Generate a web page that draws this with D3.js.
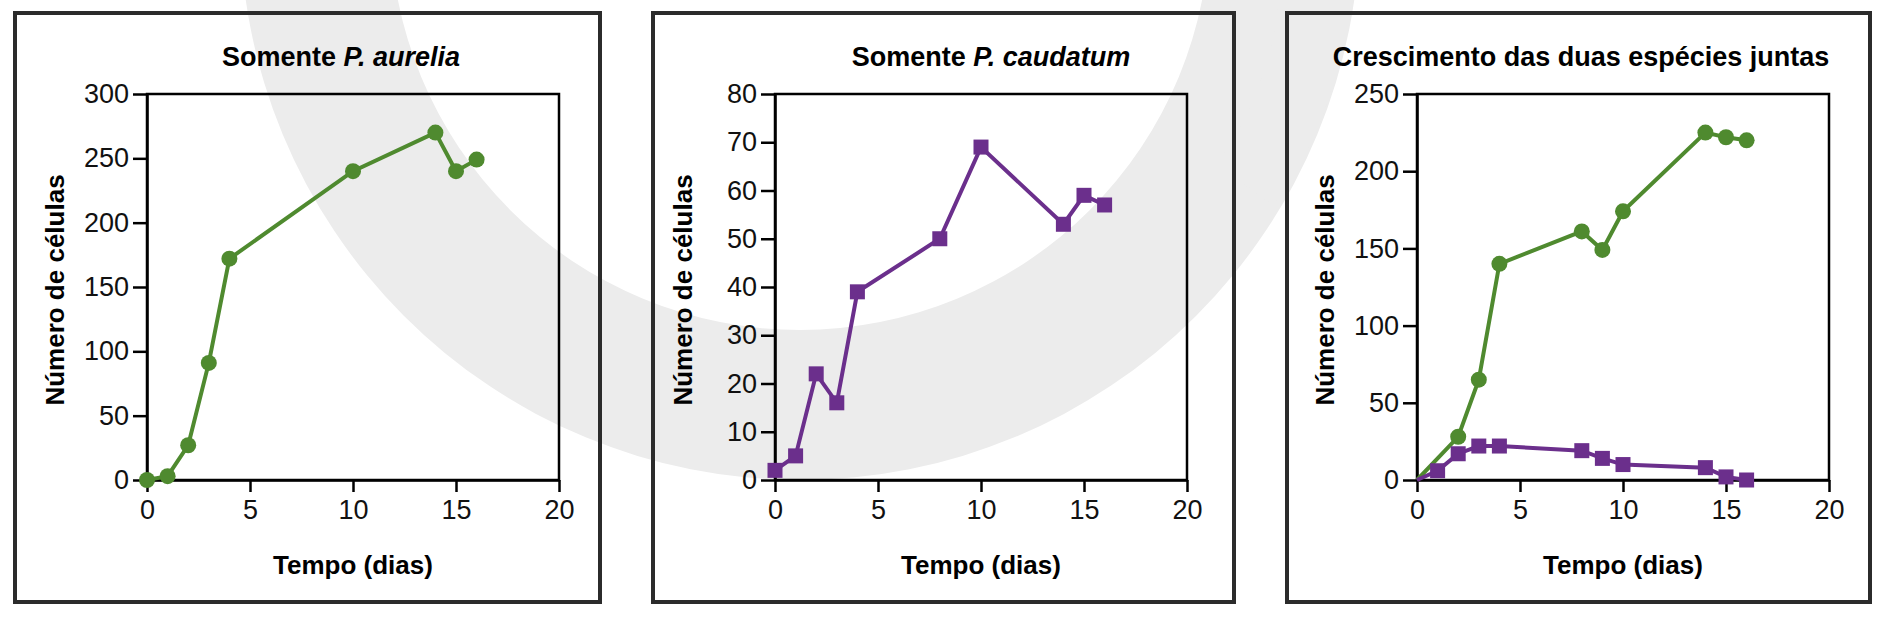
<!DOCTYPE html>
<html><head><meta charset="utf-8">
<script src="https://cdn.jsdelivr.net/npm/d3@7"></script>
<style>body{margin:0;background:#fff}svg{display:block}</style>
</head><body>
<script>
// data
const aureliaDays = [0, 1, 2, 3, 4, 10, 14, 15, 16];
const aureliaCells = [0, 3, 27, 91, 172, 240, 270, 240, 249];
const caudatumDays = [0, 1, 2, 3, 4, 8, 10, 14, 15, 16];
const caudatumCells = [2, 5, 22, 16, 39, 50, 69, 53, 59, 57];
const mixGreenDays = [0, 2, 3, 4, 8, 9, 10, 14, 15, 16];
const mixGreenCells = [0, 28, 65, 140, 161, 149, 174, 225, 222, 220];
const mixPurpleDays = [0, 1, 2, 3, 4, 8, 9, 10, 14, 15, 16];
const mixPurpleCells = [0, 6, 17, 22, 22, 19, 14, 10, 8, 2, 0];
const xTicks = [0, 5, 10, 15, 20];

const GREEN = '#4f8a2f', PURPLE = '#6b2f8c';
const zip = (xs, ys) => xs.map((x, i) => ({x, y: ys[i]}));

const svg = d3.select('body').append('svg').attr('width', 1892).attr('height', 617);

// faint watermark behind the panels
const arc = d3.arc();
svg.append('path').attr('transform', 'translate(800,-80)')
  .attr('d', arc({innerRadius: 410, outerRadius: 560, startAngle: 0, endAngle: 2 * Math.PI}))
  .attr('fill', '#ececec');
svg.append('path').attr('transform', 'translate(950,-30)')
  .attr('d', arc({innerRadius: 330, outerRadius: 400, startAngle: 0.3, endAngle: 2.2}))
  .attr('fill', '#ececec');

const panels = [
  {frame: [15, 600], left: 147, titleX: 341, title: ['Somente ', 'P. aurelia'], yMax: 300, yStep: 50,
   series: [{d: zip(aureliaDays, aureliaCells), c: GREEN, m: 'circle', skipFirst: false}]},
  {frame: [653, 1234], left: 775, titleX: 991, title: ['Somente ', 'P. caudatum'], yMax: 80, yStep: 10,
   series: [{d: zip(caudatumDays, caudatumCells), c: PURPLE, m: 'square', skipFirst: false}]},
  {frame: [1287, 1870], left: 1417, titleX: 1581, title: ['Crescimento das duas espécies juntas', ''], yMax: 250, yStep: 50,
   series: [{d: zip(mixGreenDays, mixGreenCells), c: GREEN, m: 'circle', skipFirst: true},
            {d: zip(mixPurpleDays, mixPurpleCells), c: PURPLE, m: 'square', skipFirst: true}]}
];

const plotTop = 94, plotBottom = 480, plotW = 412;
const font = '"Liberation Sans", Arial, sans-serif';

panels.forEach(p => {
  svg.append('rect').attr('x', p.frame[0]).attr('y', 13)
    .attr('width', p.frame[1] - p.frame[0]).attr('height', 589)
    .attr('fill', 'none').attr('stroke', '#2b2b2b').attr('stroke-width', 4);

  const g = svg.append('g');
  const x = d3.scaleLinear().domain([0, 20]).range([p.left, p.left + plotW]);
  const y = d3.scaleLinear().domain([0, p.yMax]).range([plotBottom, plotTop]);

  const t = g.append('text').attr('x', p.titleX).attr('y', 66).attr('text-anchor', 'middle')
    .attr('font-family', font).attr('font-weight', 'bold').attr('font-size', 27);
  t.append('tspan').text(p.title[0]);
  if (p.title[1]) t.append('tspan').attr('font-style', 'italic').text(p.title[1]);

  // plot box
  g.append('rect').attr('x', x(0)).attr('y', plotTop).attr('width', plotW).attr('height', plotBottom - plotTop)
    .attr('fill', 'none').attr('stroke', '#000').attr('stroke-width', 2.5);

  const xa = g.append('g').attr('transform', `translate(0,${plotBottom})`)
    .call(d3.axisBottom(x).tickValues(xTicks).tickSize(12).tickSizeOuter(0).tickPadding(8));
  const ya = g.append('g').attr('transform', `translate(${x(0)},0)`)
    .call(d3.axisLeft(y).tickValues(d3.range(0, p.yMax + 1, p.yStep)).tickSize(14).tickSizeOuter(0).tickPadding(4));
  [xa, ya].forEach(a => {
    a.select('.domain').attr('stroke-width', 2.5);
    a.selectAll('line').attr('stroke-width', 2.5);
    a.selectAll('text').attr('font-family', font).attr('font-size', 27).attr('fill', '#111');
  });

  g.append('text').attr('x', x(10)).attr('y', 574).attr('text-anchor', 'middle')
    .attr('font-family', font).attr('font-weight', 'bold').attr('font-size', 26).text('Tempo (dias)');
  g.append('text').attr('transform', `translate(${p.left - 90},${(plotTop + plotBottom) / 2 + 3}) rotate(-90)`)
    .attr('text-anchor', 'middle').attr('dominant-baseline', 'middle')
    .attr('font-family', font).attr('font-weight', 'bold').attr('font-size', 26).text('Número de células');

  p.series.forEach(s => {
    g.append('path').datum(s.d)
      .attr('d', d3.line().x(d => x(d.x)).y(d => y(d.y)))
      .attr('fill', 'none').attr('stroke', s.c).attr('stroke-width', 4);
    const pts = s.skipFirst ? s.d.slice(1) : s.d;
    if (s.m === 'circle') {
      g.selectAll(null).data(pts).enter().append('circle')
        .attr('cx', d => x(d.x)).attr('cy', d => y(d.y)).attr('r', 8).attr('fill', s.c);
    } else {
      g.selectAll(null).data(pts).enter().append('rect')
        .attr('x', d => x(d.x) - 7.5).attr('y', d => y(d.y) - 7.5)
        .attr('width', 15).attr('height', 15).attr('fill', s.c);
    }
  });
});
</script>
</body></html>
